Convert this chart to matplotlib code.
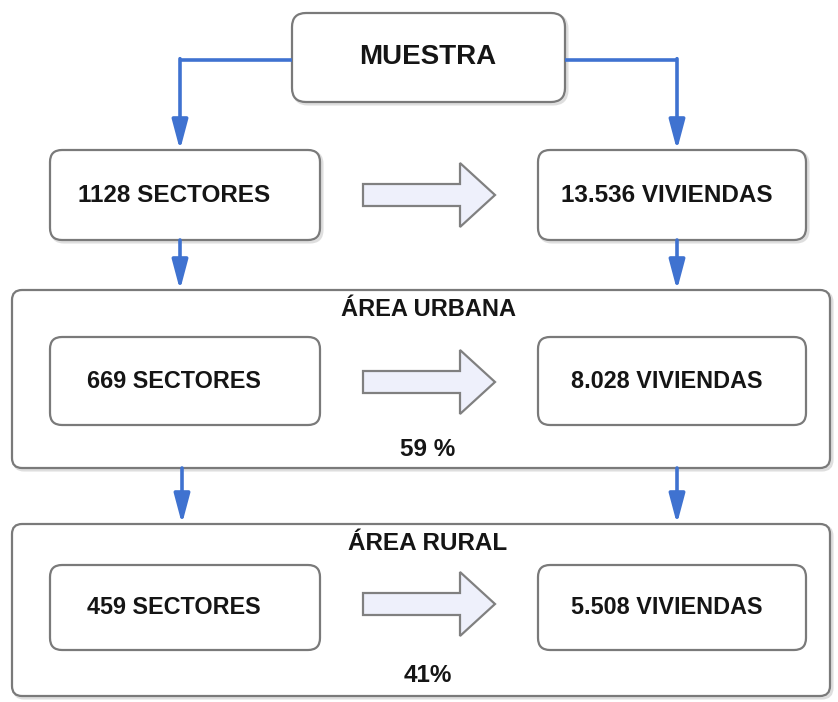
import matplotlib
matplotlib.use("Agg")
import matplotlib.pyplot as plt
from matplotlib.patches import FancyBboxPatch, FancyArrow

plt.rcParams['font.family'] = ['Liberation Sans', 'DejaVu Sans']

# datos del diagrama
titulo = "MUESTRA"
areas = ["ÁREA URBANA", "ÁREA RURAL"]
sectores = ["1128 SECTORES", "669 SECTORES", "459 SECTORES"]
viviendas = ["13.536 VIVIENDAS", "8.028 VIVIENDAS", "5.508 VIVIENDAS"]
porcentajes = ["59 %", "41%"]

blue = "#3f72d0"
edge = "#7a7a7a"
txt = "#151515"

fig = plt.figure(figsize=(8.38, 7.02), dpi=100)
ax = fig.add_axes([0, 0, 1, 1])
ax.set_xlim(0, 838)
ax.set_ylim(702, 0)
ax.axis("off")


def rbox(x0, y0, x1, y1, r=12, lw=1.6):
    # sombra suave
    sh = FancyBboxPatch((x0 + 2, y0 + 2), x1 - x0, y1 - y0,
                        boxstyle="round,pad=0,rounding_size=%d" % r,
                        fc="none", ec="#dedede", lw=lw + 0.6, zorder=1)
    ax.add_patch(sh)
    p = FancyBboxPatch((x0, y0), x1 - x0, y1 - y0,
                       boxstyle="round,pad=0,rounding_size=%d" % r,
                       fc="white", ec=edge, lw=lw, zorder=2)
    ax.add_patch(p)


def big_arrow(yc):
    a = FancyArrow(363, yc, 132, 0, width=22, head_width=64, head_length=35,
                   length_includes_head=True, fc="#eef0fb", ec="#808080",
                   lw=1.6, zorder=3)
    ax.add_patch(a)


def down(x, y0, y1):
    ax.annotate("", xy=(x, y1), xytext=(x, y0),
                arrowprops=dict(arrowstyle="-|>,head_length=0.9,head_width=0.24",
                                color=blue, lw=2.6, mutation_scale=20,
                                shrinkA=0, shrinkB=0), zorder=4)


# cajas exteriores
rbox(12, 290, 830, 468, r=10)
rbox(12, 524, 830, 696, r=10)

# caja principal
rbox(292, 13, 565, 102, r=14)
ax.text(428, 57, titulo, ha="center", va="center", fontsize=20,
        fontweight="bold", color=txt, zorder=5)

# filas
rows_y = [(150, 240), (337, 425), (565, 650)]
arrow_y = [195, 382, 604]
for i, (y0, y1) in enumerate(rows_y):
    rbox(50, y0, 320, y1)
    rbox(538, y0, 806, y1)
    yc = (y0 + y1) / 2
    fs = 17.5 if i == 0 else 16.8
    ax.text(174, yc, sectores[i], ha="center", va="center", fontsize=fs,
            fontweight="bold", color=txt, zorder=5)
    ax.text(667, yc, viviendas[i], ha="center", va="center", fontsize=fs,
            fontweight="bold", color=txt, zorder=5)
    big_arrow(arrow_y[i])

ax.text(428, 310, areas[0], ha="center", va="center", fontsize=17,
        fontweight="bold", color=txt, zorder=5)
ax.text(428, 544, areas[1], ha="center", va="center", fontsize=17.5,
        fontweight="bold", color=txt, zorder=5)
ax.text(428, 449, porcentajes[0], ha="center", va="center", fontsize=17.5,
        fontweight="bold", color=txt, zorder=5)
ax.text(428, 676, porcentajes[1], ha="center", va="center", fontsize=17.5,
        fontweight="bold", color=txt, zorder=5)

# conectores azules
ax.plot([292, 180], [60, 60], color=blue, lw=2.6, solid_capstyle="butt", zorder=4)
ax.plot([565, 677], [60, 60], color=blue, lw=2.6, solid_capstyle="butt", zorder=4)
down(180, 58.7, 150)
down(677, 58.7, 150)
down(180, 240, 290)
down(677, 240, 290)
down(182, 468, 524)
down(677, 468, 524)

fig.savefig("out.png", dpi=100)
